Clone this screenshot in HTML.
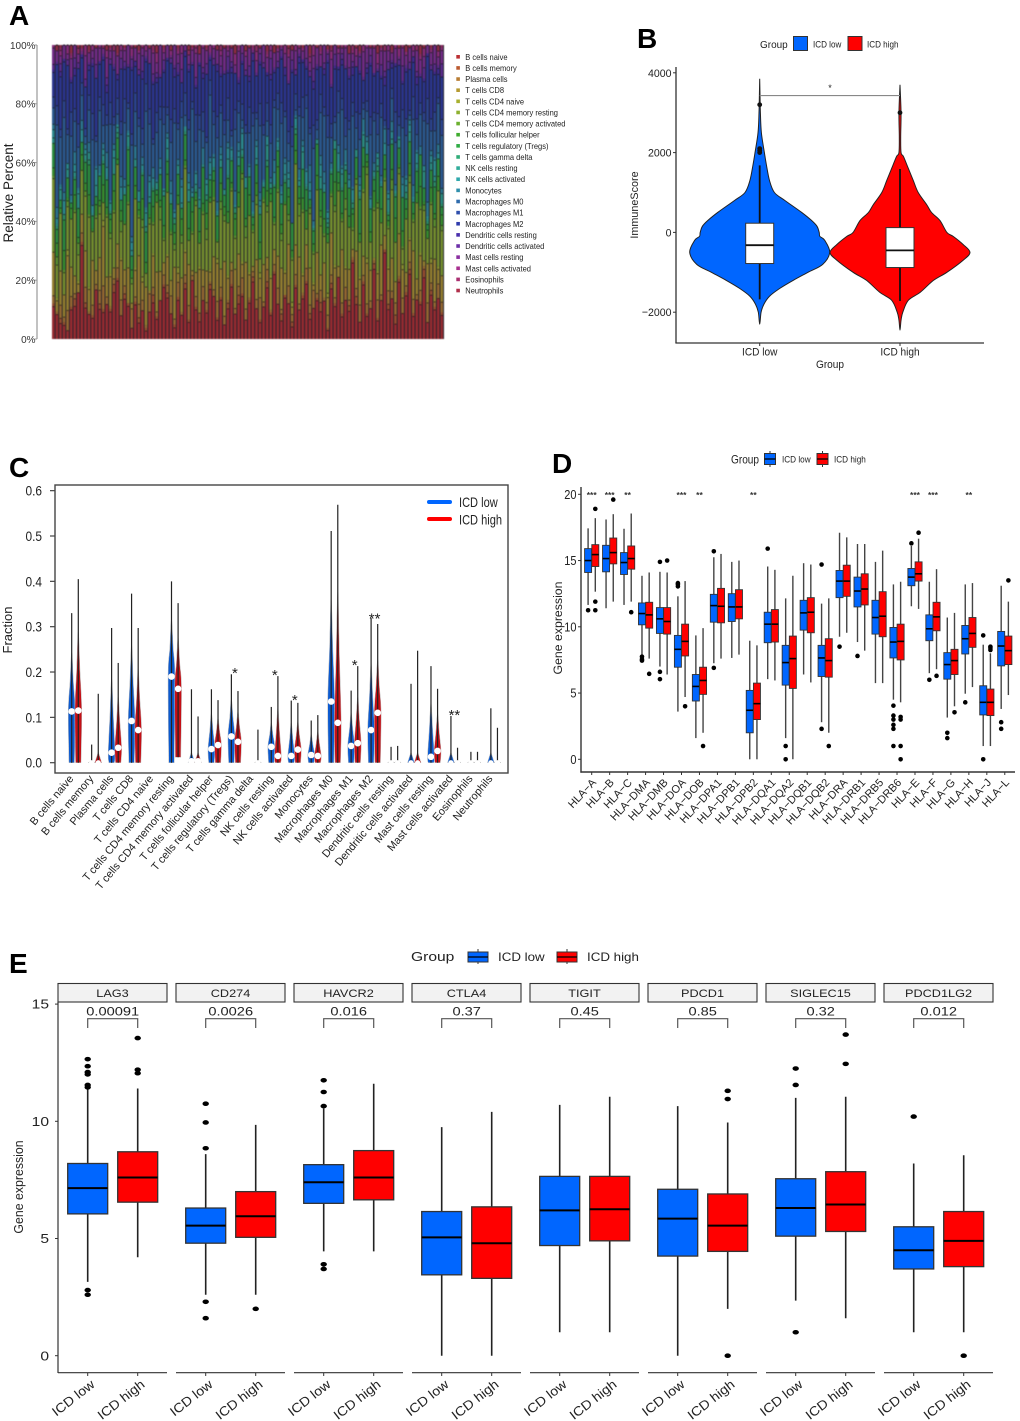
<!DOCTYPE html>
<html lang="en">
<head>
<meta charset="utf-8">
<title>Immune landscape panels A–E</title>
<style>
html,body{margin:0;padding:0;background:#fff;}
svg{display:block;font-family:"Liberation Sans",sans-serif;}
</style>
</head>
<body>
<svg id="fig" xmlns="http://www.w3.org/2000/svg" width="1020" height="1421" viewBox="0 0 1020 1421">
<rect width="1020" height="1421" fill="#fff"/>
<g id="pa"></g>
<g id="pb"></g>
<g id="pc"></g>
<g id="pd"></g>
<g id="pe"></g>
</svg>
<script>
/* ---------- Panel A data (relative cell fractions per sample) ---------- */
const aCellTypes = ["B cells naive","B cells memory","Plasma cells","T cells CD8","T cells CD4 naive","T cells CD4 memory resting","T cells CD4 memory activated","T cells follicular helper","T cells regulatory (Tregs)","T cells gamma delta","NK cells resting","NK cells activated","Monocytes","Macrophages M0","Macrophages M1","Macrophages M2","Dendritic cells resting","Dendritic cells activated","Mast cells resting","Mast cells activated","Eosinophils","Neutrophils"];
const aColors = ["#bb2f33","#bb5a30","#b87d33","#b59a30","#a8b02f","#8eb02f","#6cb02f","#3fac2f","#2fac45","#2fac78","#2fac9a","#2fa8ac","#2f8fac","#2f6bac","#2f4fac","#2f3cac","#4a2fac","#6c2fa8","#8a2fa0","#a82f8f","#aa2f70","#b02f4a"];
const aBNaive = [12,9,6,5,3,11,13,16,30,12,10,8,18,11,9,14,10,17,22,9,15,12,4,13,6,11,3,9,14,8,12,21,16,10,4,13,9,18,7,24,11,6,14,10,20,13,8,15,5,11,19,9,12,16,7,14,22,10,6,13,17,9,26,11,8,15,12,5,19,10,14,21,7,12,16,9,13,4,18,11,23,8,15,10,28,13,6,17,9,12,25,7,14,30,11,16,5,20,10,13,27,8,15,12,22,6,18,11,14,9];
const aBMemory = [1,0,2,1,0,1,3,0,1,2,0,1,0,2,1,0,1,3,1,0,2,1,0,1,2,0,1,0,3,1,0,1,2,0,1,1,0,2,1,0,1,3,0,1,2,0,1,1,0,2,1,0,3,1,0,1,2,0,1,0,2,1,1,0,3,1,0,2,1,0,1,1,2,0,1,3,0,1,2,1,0,1,0,2,1,3,0,1,1,0,2,1,0,1,2,0,3,1,0,1,2,1,0,1,3,0,2,1,0,1];
const aPlasma = [3,1,5,2,7,4,2,0,3,6,1,4,2,5,8,3,1,2,4,6,3,0,7,2,5,4,1,6,3,2,0,4,3,7,2,5,1,3,6,2,4,0,5,3,1,2,7,4,3,1,5,2,3,6,4,1,2,3,8,2,4,1,3,5,2,0,6,3,4,2,1,5,3,7,2,4,1,6,3,2,0,4,5,2,1,3,6,2,4,3,1,7,2,0,5,3,4,1,6,2,3,5,2,4,1,7,3,2,5,4];
const aCD8 = [16,4,13,8,19,11,7,3,6,14,9,17,5,12,20,8,11,4,9,15,6,13,2,10,18,7,14,1,12,16,9,5,11,6,18,3,13,8,17,2,9,15,6,12,4,10,16,7,19,8,3,14,11,5,17,9,2,13,7,15,4,12,6,10,18,8,14,3,11,16,6,9,13,2,17,5,12,8,15,10,4,19,7,11,3,14,9,6,16,12,1,10,18,5,8,13,7,15,11,4,9,17,6,12,2,14,8,16,5,10];
const aCD4Naive = [0,1,0,0,2,0,0,1,0,0,1,0,0,0,2,0,1,0,0,1,0,0,0,1,0,2,0,0,1,0,0,0,1,0,0,2,0,1,0,0,0,1,0,0,1,0,2,0,0,1,0,0,0,1,0,1,0,0,2,0,0,1,0,0,0,1,0,2,0,0,1,0,0,1,0,0,0,2,0,1,0,0,1,0,0,0,1,0,2,0,0,1,0,0,1,0,0,0,2,0,1,0,0,1,0,0,2,0,1,0];
const aCD4Rest = [27,12,22,8,15,18,25,9,14,21,28,11,19,16,6,24,13,20,30,10,17,23,7,26,14,19,5,22,11,28,16,9,24,18,6,21,13,29,10,15,25,8,20,12,27,17,7,23,14,19,26,11,16,31,9,22,13,18,5,25,15,28,10,20,12,24,8,17,30,14,21,6,19,11,26,16,9,23,13,18,28,10,22,15,7,25,12,20,33,11,17,24,8,19,14,27,13,21,6,16,23,10,29,15,18,9,22,12,26,17];
const aCD4Act = [1,3,0,1,2,0,1,4,0,2,1,0,1,3,0,1,2,1,0,4,0,1,2,0,1,3,0,2,1,0,4,1,0,1,2,0,3,1,0,1,2,0,1,4,0,1,0,3,2,0,1,1,0,2,4,0,1,3,0,1,2,0,1,1,3,0,2,1,0,4,1,0,2,1,0,3,1,0,1,2,0,1,4,0,1,2,0,1,3,0,1,2,0,1,1,4,0,2,1,0,3,1,0,1,2,0,1,3,0,2];
const aTfh = [3,5,2,7,1,4,6,2,5,3,8,1,4,2,6,3,5,7,2,4,1,6,3,5,2,8,4,1,6,3,2,5,7,1,4,3,6,2,5,8,1,4,3,6,2,5,1,7,3,4,2,6,5,1,3,8,2,4,6,1,5,3,2,7,4,1,6,3,5,2,4,7,1,3,6,2,5,4,1,8,3,2,6,4,5,1,3,7,2,4,6,1,5,3,2,4,8,1,6,3,5,2,4,7,1,3,6,2,5,4];
const aTreg = [9,5,3,11,7,2,6,10,4,8,12,5,3,9,7,11,2,6,8,4,10,13,5,7,3,9,11,4,6,2,8,12,5,10,3,7,4,9,11,6,2,8,13,5,7,3,10,6,4,12,8,2,9,5,11,7,3,6,10,4,8,2,12,5,9,7,3,11,6,4,10,8,2,5,13,7,9,3,6,11,4,8,5,10,2,7,12,6,3,9,4,11,8,5,2,10,7,6,13,3,9,4,8,11,5,2,7,10,6,3];
const aGamma = [0,1,0,2,0,0,1,0,0,1,2,0,0,0,1,0,1,0,2,0,0,1,0,0,0,1,2,0,1,0,0,0,1,0,2,0,0,1,0,0,1,0,0,2,0,1,0,0,0,1,0,2,0,1,0,0,1,0,0,0,2,0,1,0,0,1,0,0,2,0,0,1,0,1,0,0,0,2,1,0,0,1,0,0,2,0,1,0,0,0,1,2,0,0,1,0,1,0,0,2,0,0,1,0,0,1,0,2,0,1];
const aNKRest = [2,1,4,0,3,1,2,5,0,2,3,1,4,0,2,1,3,6,2,0,1,4,2,3,0,1,5,2,1,3,0,2,4,1,0,3,2,1,5,0,2,3,1,4,2,0,1,3,2,6,1,0,3,2,4,1,0,2,3,1,5,2,0,1,4,2,3,0,1,2,6,1,3,0,2,4,1,2,0,3,1,5,2,0,1,3,2,4,0,1,2,3,1,0,5,2,1,3,0,2,4,1,2,0,6,1,3,2,0,4];
const aNKAct = [3,2,1,5,2,0,3,1,4,2,0,3,6,1,2,4,0,3,1,5,2,1,3,0,4,2,1,5,3,0,2,1,4,3,2,0,6,1,3,2,4,1,0,2,5,3,1,2,0,4,3,1,2,6,0,3,1,4,2,1,3,0,5,2,1,4,2,0,3,1,2,5,3,1,0,4,2,3,1,0,6,2,1,3,4,0,2,1,5,3,0,2,1,4,2,3,0,1,5,2,3,1,4,0,2,1,3,6,2,0];
const aMono = [2,4,1,3,0,2,5,1,3,2,4,0,1,3,2,6,1,2,0,4,3,1,2,5,0,3,1,2,4,1,3,0,2,5,1,2,3,0,4,2,1,3,6,0,2,1,4,3,0,2,1,5,3,2,0,1,4,2,3,1,0,2,5,1,3,2,4,0,1,3,2,1,6,2,0,3,4,1,2,0,3,1,5,2,1,0,3,4,2,1,3,0,2,5,1,4,2,0,3,1,2,4,1,3,0,5,2,1,3,2];
const aM0 = [6,30,18,27,10,22,12,14,8,3,13,25,9,20,6,11,28,7,4,16,21,8,33,13,24,5,35,17,9,19,12,26,7,15,30,10,23,4,18,32,11,20,6,14,25,9,27,13,19,8,4,22,10,3,16,12,29,7,24,18,5,13,21,9,27,15,6,31,2,18,8,23,11,28,4,14,19,33,9,6,12,20,5,16,26,8,13,3,10,24,15,7,21,1,17,9,14,4,19,12,2,23,6,11,16,28,8,10,14,20];
const aM1 = [4,7,3,6,2,9,5,8,4,3,6,10,2,5,7,4,8,3,6,5,9,2,4,7,3,6,10,5,2,8,4,7,3,9,5,2,6,8,4,3,10,5,7,2,6,4,9,3,5,8,2,7,4,6,3,10,5,2,8,4,6,7,3,5,9,2,4,8,6,3,7,5,2,9,4,6,3,10,5,2,8,4,7,3,5,6,9,2,4,7,3,8,5,2,6,4,10,3,7,5,2,8,6,4,3,9,5,7,2,6];
const aM2 = [9,15,20,14,22,11,13,19,8,16,10,18,21,12,15,9,14,17,7,20,11,13,23,10,16,19,8,15,21,12,9,14,18,22,11,16,7,13,20,15,10,17,12,24,8,14,19,11,16,9,21,13,6,15,18,10,20,12,14,23,9,17,11,8,19,13,16,22,7,15,12,10,18,14,21,9,11,24,13,16,8,12,19,15,10,17,14,7,11,20,13,16,9,12,22,8,15,18,10,14,17,12,13,9,11,15,20,14,8,16];
const aDCRest = [1,0,2,1,0,1,3,0,1,0,2,1,0,1,1,3,0,1,2,0,1,0,1,2,0,3,1,0,1,2,0,1,1,0,3,1,0,2,1,0,1,1,2,0,1,0,3,1,0,1,2,0,1,1,0,2,3,0,1,0,1,2,1,0,1,3,0,1,0,2,1,1,0,3,1,0,2,1,0,1,1,2,0,1,3,0,1,0,2,1,1,0,1,3,0,2,1,0,1,1,0,2,3,0,1,1,0,1,2,0];
const aDCAct = [2,1,3,0,2,1,4,2,0,3,1,2,5,0,1,3,2,1,0,4,2,1,3,0,2,6,1,0,3,2,1,4,0,2,1,3,5,0,2,1,3,0,2,4,1,2,0,3,1,5,2,0,1,3,2,4,0,1,3,2,0,6,1,2,3,0,1,4,2,1,0,3,2,5,1,0,2,3,1,4,0,2,1,3,2,0,5,1,2,3,0,1,4,2,3,1,0,2,6,1,3,0,2,1,4,0,2,3,1,5];
const aMastRest = [6,4,3,5,2,7,5,3,1,9,4,3,6,5,2,8,3,5,7,3,4,7,1,5,6,3,2,5,8,4,9,3,5,1,7,3,6,2,4,5,9,3,7,5,1,3,6,4,8,2,5,3,9,3,5,7,1,4,2,7,5,3,6,3,1,5,8,4,7,2,3,5,3,5,7,4,6,1,9,3,5,2,7,5,3,4,1,8,6,3,9,2,5,7,4,3,5,1,7,3,6,2,8,5,4,3,5,7,3,5];
const aMastAct = [1,0,2,0,3,1,0,0,1,4,0,2,0,1,0,3,1,0,0,2,1,0,3,0,1,0,2,0,1,4,0,1,0,2,0,1,3,0,0,1,2,0,1,0,3,1,0,2,0,1,0,4,1,0,2,0,1,3,0,0,1,2,0,1,0,3,1,0,2,0,1,0,2,4,0,1,0,1,3,0,2,0,1,0,1,3,0,2,1,0,0,4,1,0,2,0,1,3,0,1,0,2,0,1,3,0,1,0,2,1];
const aEos = [0,0,1,0,0,1,0,2,0,0,1,0,0,0,1,0,0,2,1,0,0,0,1,0,0,1,0,0,2,0,0,1,0,0,0,1,0,0,2,0,1,0,0,1,0,0,0,2,0,1,0,0,1,0,0,0,1,2,0,0,1,0,0,0,1,0,2,0,0,1,0,0,1,0,0,2,0,0,1,0,0,1,0,0,2,0,1,0,0,0,1,0,0,2,0,1,0,0,1,0,0,0,2,1,0,0,1,0,0,1];
const aNeut = [0,2,1,0,0,3,0,1,1,0,2,0,1,0,0,2,1,0,3,0,1,0,0,1,2,0,0,1,0,3,0,1,0,2,0,1,0,0,2,1,0,3,0,1,0,0,2,0,1,0,1,3,0,0,2,1,0,0,1,0,2,0,3,1,0,0,1,2,0,0,1,0,3,0,1,0,0,2,1,0,1,0,0,3,0,1,2,0,0,1,0,3,1,0,0,2,0,1,0,2,1,0,0,3,1,0,1,0,2,0];
const aTicks = [0,20,40,60,80,100];

/* ---------- Panel B data ---------- */
const bLowLevels = [3850,3400,3000,2500,2000,1700,1300,1000,800,500,300,150,0,-100,-200,-500,-800,-1000,-1200,-1400,-1600,-1800,-2000,-2300];
const bLowDensity = [0,0.5,1,2.4,6.7,9.5,14,21,36,60,74,82,85,86,93,100,90,69,48,29,14,6,2,0];
const bHighLevels = [3700,3000,2400,2000,1900,1600,1300,1000,700,500,300,0,-100,-300,-500,-700,-1000,-1200,-1500,-1700,-2000,-2200,-2450];
const bHighDensity = [0,1.5,1,1.5,5,12,19,26,38,45,57,67,76,90,100,90,67,48,29,12,4,1.5,0];
const bLowBox = [-1680,-780,-320,230,1680];
const bHighBox = [-1720,-880,-450,120,1590];
const bLowOutliers = [3200,2100,2050,2000];
const bHighOutliers = [3000];
const bTicks = [-2000,0,2000,4000];

/* ---------- Panel C data ---------- */
const cCats = aCellTypes;
const cLowMedian = [.113,0,.022,.092,0,.19,.003,.03,.058,0,.035,.015,.017,.135,.037,.072,0,0,.013,0,0,0];
const cLowMax = [.33,.04,.297,.373,0,.40,.162,.162,.195,0,.123,.137,.093,.511,.159,.319,.035,.174,.213,.103,.024,.12];
const cHighMedian = [.115,0,.033,.072,0,.163,.003,.039,.046,0,.015,.029,.015,.088,.043,.11,0,0,.026,0,0,0];
const cHighMax = [.405,.152,.22,.297,0,.352,.102,.138,.158,.073,.191,.132,.105,.569,.213,.306,.037,.247,.163,.033,.024,.077];
const cHighMin = [0,0,0,0,0,.012,0,0,0,0,0,0,0,0,0,0,0,0,0,0,0,0];
const cStars = ["","","","","","","","","*","","*","*","","","*","**","","","","**","",""];
const cStarValue = [0,0,0,0,0,0,0,0,.205,0,.2,.145,0,0,.222,.325,0,0,0,.112,0,0];
const cTicks = [0,.1,.2,.3,.4,.5,.6];

/* ---------- Panel D data: [lower whisker, q1, median, q3, upper whisker] ---------- */
const dGenes = ["HLA−A","HLA−B","HLA−C","HLA−DMA","HLA−DMB","HLA−DOA","HLA−DOB","HLA−DPA1","HLA−DPB1","HLA−DPB2","HLA−DQA1","HLA−DQA2","HLA−DQB1","HLA−DQB2","HLA−DRA","HLA−DRB1","HLA−DRB5","HLA−DRB6","HLA−E","HLA−F","HLA−G","HLA−H","HLA−J","HLA−L"];
const dLowBox = [[11.65,14.1,15,15.9,17.43],[11.4,14.15,15.15,16.15,18.1],[11.65,13.95,14.85,15.6,17.4],[7.9,10.15,11,11.8,13.85],[7,9.5,10.6,11.45,14.15],[3.6,6.95,8.3,9.35,12.3],[1.6,4.4,5.5,6.4,9.35],[7.25,10.35,11.6,12.45,15.25],[7.65,10.4,11.5,12.5,14.9],[0,2,3.7,5.2,8.95],[6.05,8.8,10.2,11.1,14.55],[1.6,5.6,7.3,8.6,12.15],[6.4,9.75,11.05,12,14.8],[2.8,6.25,7.65,8.6,11.75],[9.25,12.2,13.45,14.25,17.1],[8.85,11.5,12.7,13.75,16.25],[5.75,9.45,10.7,12,14.9],[4.5,7.65,8.85,9.95,13.2],[11.55,13.1,13.75,14.4,16.1],[6.5,8.95,9.85,10.9,13.4],[3.15,6.05,7.15,8.05,10.7],[4.95,7.95,9.1,10.1,13.2],[1,3.35,4.3,5.55,8.65],[3.8,7.05,8.55,9.65,13.1]];
const dHighBox = [[12.65,14.55,15.45,16.2,18.2],[11.9,14.75,15.6,16.7,18.5],[11.9,14.35,15.15,16.1,18.55],[7.6,9.9,10.9,11.85,14.1],[6.4,9.45,10.4,11.45,14.1],[4.7,7.8,8.9,10.2,13.45],[2,4.9,5.95,6.95,9.9],[7.6,10.3,11.55,12.9,15.5],[7.9,10.6,11.5,12.8,15],[0,3,4.2,5.75,8.6],[5.95,8.85,10.2,11.3,14.3],[0,5.35,7.6,9.3,13.85],[5.8,9.55,11.1,12.2,14.7],[2,6.2,7.45,9.1,12.15],[9.55,12.3,13.45,14.65,16.75],[8.2,11.65,12.85,14,16.25],[5.75,9.25,10.8,12.65,15.75],[4.3,7.5,8.9,10.2,13.4],[11.35,13.45,14,14.9,16.65],[6.8,9.7,10.75,11.85,14.35],[4,6.4,7.45,8.3,11.05],[5.45,8.45,9.5,10.7,13.3],[1,3.3,4.3,5.3,8],[4.85,7.15,8.2,9.3,11.9]];
const dLowOutliers = [[11.25],[],[],[7.75,7.55,7.45],[14.9,6.6,6.05],[13.3,13.2,13.05],[],[15.7,6.9],[],[],[15.9],[1,0],[],[14.7,2.3],[8.5],[7.8],[],[4.05,3.3,3,2.6,2.3,1],[16.3],[6],[2,1.6],[4.3],[9.35,0],[2.8,2.3]];
const dHighOutliers = [[18.9,11.9,11.25],[19.6],[11.1],[6.45],[15],[4],[1],[],[],[],[],[],[],[1],[],[],[],[3.2,3,1,0],[17.1],[6.3],[3.55],[],[8.5,8.4,8.25],[13.5]];
const dStars = ["***","***","**","","","***","**","","","**","","","","","","","","","***","***","","**","",""];
const dTicks = [0,5,10,15,20];

/* ---------- Panel E data ---------- */
const eGenes = ["LAG3","CD274","HAVCR2","CTLA4","TIGIT","PDCD1","SIGLEC15","PDCD1LG2"];
const ePValues = ["0.00091","0.0026","0.016","0.37","0.45","0.85","0.32","0.012"];
const eLowBox = [[3.15,6.05,7.15,8.2,11.4],[2.6,4.8,5.55,6.3,8.6],[4.45,6.5,7.4,8.15,10.55],[0,3.45,5.05,6.15,9.75],[1,4.7,6.2,7.65,10.7],[0,4.25,5.85,7.1,10.65],[2.35,5.1,6.3,7.55,11],[1,3.7,4.5,5.5,8.2]];
const eHighBox = [[4.2,6.55,7.6,8.7,11.4],[2.6,5.05,5.95,7,9.85],[4.45,6.65,7.6,8.75,11.6],[0,3.3,4.8,6.35,10.4],[1,4.9,6.25,7.65,11.05],[2,4.45,5.55,6.9,9.95],[1.6,5.3,6.45,7.85,11.05],[1,3.8,4.9,6.15,8.55]];
const eLowOutliers = [[12.65,12.35,12.1,12,11.55,11.45,2.8,2.6],[10.75,9.95,8.85,2.3,1.6],[11.75,11.25,10.65,3.9,3.7],[],[],[],[12.25,11.55,1],[10.2]];
const eHighOutliers = [[13.55,12.2,12.05],[2],[],[],[],[11.3,10.95,0],[13.7,12.45],[0]];
const eTicks = [0,5,10,15];

/* ---------- helpers ---------- */
const NS = "http://www.w3.org/2000/svg";
function mk(parent, type, attrs, name) {
  const el = document.createElementNS(NS, type);
  for (const k in attrs) el.setAttribute(k, attrs[k]);
  
  
  parent.appendChild(el);
  return el;
}
function txt(parent, x, y, s, o, name) {
  o = o || {};
  const t = `translate(${x},${y}) rotate(${o.rot || 0}) scale(${o.sx || 1},1)`;
  const el = mk(parent, 'text', {
    transform: t,
    'font-size': o.size || 11,
    'text-anchor': o.anchor || 'start',
    fill: o.fill || '#222',
    'font-weight': o.weight || 'normal'
  }, name);
  el.textContent = s;
  return el;
}
function line(parent, x1, y1, x2, y2, stroke, w, name) {
  return mk(parent, 'line', {x1, y1, x2, y2, stroke, 'stroke-width': w}, name);
}
function slug(s) { return String(s).toLowerCase().replace(/[^a-z0-9]+/g, '-').replace(/^-|-$/g, ''); }
function smooth(pts) {
  let d = `M${pts[0][0]},${pts[0][1]}`;
  for (let i = 0; i < pts.length - 1; i++) {
    const p0 = pts[Math.max(i - 1, 0)], p1 = pts[i], p2 = pts[i + 1], p3 = pts[Math.min(i + 2, pts.length - 1)];
    const c1x = p1[0] + (p2[0] - p0[0]) / 6, c1y = p1[1] + (p2[1] - p0[1]) / 6;
    const c2x = p2[0] - (p3[0] - p1[0]) / 6, c2y = p2[1] - (p3[1] - p1[1]) / 6;
    d += `C${c1x.toFixed(2)},${c1y.toFixed(2)} ${c2x.toFixed(2)},${c2y.toFixed(2)} ${p2[0].toFixed(2)},${p2[1].toFixed(2)}`;
  }
  return d;
}
function panelLetter(parent, x, y, s) { txt(parent, x, y, s, {size: 28, weight: 'bold', fill: '#000'}, 'panel-label-' + s.toLowerCase()); }

/* ---------- Panel A ---------- */
(function () {
  const g = document.getElementById('pa');
  panelLetter(g, 9, 25, 'A');
  const series = [aBNaive,aBMemory,aPlasma,aCD8,aCD4Naive,aCD4Rest,aCD4Act,aTfh,aTreg,aGamma,aNKRest,aNKAct,aMono,aM0,aM1,aM2,aDCRest,aDCAct,aMastRest,aMastAct,aEos,aNeut];
  const X0 = 52, X1 = 444, Y0 = 339, Y1 = 45;
  const yPct = v => Y0 - v / 100 * (Y0 - Y1);
  const bars = mk(g, 'g', {style: 'filter:blur(0.55px)'}, 'stacked-bars');
  mk(bars, 'rect', {x: X0, y: Y1, width: X1 - X0, height: Y0 - Y1, fill: '#20202a'}, 'stack-plot-background');
  const n = aBNaive.length, step = (X1 - X0) / n;
  for (let i = 0; i < n; i++) {
    let total = 0, cum = 0;
    series.forEach(s => total += s[i] || 0);
    series.forEach((s, k) => {
      const v = s[i] || 0;
      if (!v) return;
      const top = yPct((cum + v) / total * 100), bot = yPct(cum / total * 100);
      const r = mk(bars, 'rect', {x: (X0 + i * step).toFixed(2), y: top.toFixed(2), width: (step - 0.9).toFixed(2), height: (bot - top).toFixed(2), fill: aColors[k]}, 'stack-segment');
      r.setAttribute('fill-opacity', '0.76');
      if (v >= 2) mk(bars, 'rect', {x: (X0 + i * step + 0.6).toFixed(2), y: (top - 0.5).toFixed(2), width: 1.6, height: 1.2, fill: '#111'}, 'segment-edge');
      cum += v;
    });
  }
  line(g, 37, 45, 37, 339, '#999', 1.2, 'y-axis-line');
  aTicks.forEach(t => {
    const y = yPct(t);
    line(g, 35, y, 37, y, '#999', 1, 'y-tick');
    txt(g, 35.5, y + 3.8, t + '%', {size: 10.5, anchor: 'end', fill: '#333', sx: .95}, 'y-tick-label');
  });
  txt(g, 13, 193, 'Relative Percent', {size: 13.5, anchor: 'middle', rot: -90, fill: '#222'}, 'y-axis-title');
  aCellTypes.forEach((c, i) => {
    const y = 56.8 + i * 11.13;
    mk(g, 'rect', {x: 456.3, y: y - 1.8, width: 3.6, height: 3.6, fill: aColors[i]}, 'legend-swatch');
    txt(g, 465.3, y + 3, c, {size: 8.6, fill: '#222', sx: .875}, 'legend-entry-' + slug(c));
  });
})();

/* ---------- Panel B ---------- */
(function () {
  const g = document.getElementById('pb');
  panelLetter(g, 637, 48, 'B');
  const yv = v => 232.4 - v * 0.0399;
  const xLow = 759.7, xHigh = 900;
  function violin(cx, levels, dens, color, name) {
    const right = levels.map((l, i) => [cx + dens[i] * 0.7, yv(l)]);
    const left = levels.map((l, i) => [cx - dens[i] * 0.7, yv(l)]).reverse().slice(1);
    mk(g, 'path', {d: smooth(right.concat(left)) + 'Z', fill: color, stroke: '#222', 'stroke-width': 1}, name);
  }
  violin(xLow, bLowLevels, bLowDensity, '#0066ff', 'violin-icd-low');
  violin(xHigh, bHighLevels, bHighDensity, '#ff0000', 'violin-icd-high');
  function box(cx, b, outs, name) {
    line(g, cx, yv(b[0]), cx, yv(b[4]), '#111', 1.8, name + '-whisker');
    mk(g, 'rect', {x: cx - 14, y: yv(b[3]), width: 28, height: yv(b[1]) - yv(b[3]), fill: '#fff', stroke: '#333', 'stroke-width': 1}, name + '-box');
    line(g, cx - 14, yv(b[2]), cx + 14, yv(b[2]), '#111', 1.8, name + '-median');
    outs.forEach(o => mk(g, 'circle', {cx, cy: yv(o), r: 2.4, fill: '#111'}, name + '-outlier'));
  }
  box(xLow, bLowBox, bLowOutliers, 'box-icd-low');
  box(xHigh, bHighBox, bHighOutliers, 'box-icd-high');
  line(g, xLow, yv(3430), xHigh, yv(3430), '#888', 1.2, 'significance-bracket');
  txt(g, 830, 91, '*', {size: 9, anchor: 'middle', fill: '#222'}, 'significance-star');
  line(g, 676, 67, 676, 343, '#333', 1.3, 'y-axis-line');
  line(g, 675.4, 343, 984, 343, '#333', 1.3, 'x-axis-line');
  bTicks.forEach(t => {
    line(g, 673, yv(t), 676, yv(t), '#333', 1, 'y-tick');
    txt(g, 671.5, yv(t) + 4, String(t).replace('-', '−'), {size: 11.5, anchor: 'end', sx: .92}, 'y-tick-label');
  });
  [[xLow, 'ICD low'], [xHigh, 'ICD high']].forEach(c => {
    line(g, c[0], 343, c[0], 346, '#333', 1, 'x-tick');
    txt(g, c[0], 355.5, c[1], {size: 11, anchor: 'middle', sx: .92}, 'x-tick-label');
  });
  txt(g, 830, 368, 'Group', {size: 11, anchor: 'middle', sx: .92}, 'x-axis-title');
  txt(g, 638, 205, 'ImmuneScore', {size: 10.8, anchor: 'middle', rot: -90}, 'y-axis-title');
  txt(g, 760, 48, 'Group', {size: 10.5, sx: .95}, 'legend-title');
  mk(g, 'rect', {x: 793.5, y: 36.5, width: 14, height: 14, fill: '#0066ff', stroke: '#333', 'stroke-width': 1}, 'legend-key-icd-low');
  txt(g, 813, 47.5, 'ICD low', {size: 9, sx: .9}, 'legend-label-icd-low');
  mk(g, 'rect', {x: 848, y: 36.5, width: 14, height: 14, fill: '#ff0000', stroke: '#333', 'stroke-width': 1}, 'legend-key-icd-high');
  txt(g, 867, 47.5, 'ICD high', {size: 9, sx: .9}, 'legend-label-icd-high');
})();

/* ---------- Panel C ---------- */
(function () {
  const g = document.getElementById('pc');
  panelLetter(g, 9, 477, 'C');
  const yv = v => 762.7 - v * 453.4;
  mk(g, 'rect', {x: 55, y: 485, width: 453, height: 288, fill: '#fff', stroke: '#444', 'stroke-width': 1.4}, 'plot-frame');
  cTicks.forEach(t => {
    line(g, 50, yv(t), 55, yv(t), '#444', 1.2, 'y-tick');
    txt(g, 42, yv(t) + 5, t.toFixed(1), {size: 14, anchor: 'end', sx: .85}, 'y-tick-label');
  });
  txt(g, 12, 630, 'Fraction', {size: 13, anchor: 'middle', rot: -90}, 'y-axis-title');
  function vio(cx, med, max, min, color, name) {
    if (max > 0) {
      const hw = 3.4;
      if (med >= .01) {
        const top = med + (max - med) * 0.6;
        const right = [[cx + hw * .8, yv(min)], [cx + hw, yv(med)], [cx + hw * .5, yv((med + top) / 2)], [cx, yv(top)]];
        const left = [[cx - hw * .5, yv((med + top) / 2)], [cx - hw, yv(med)], [cx - hw * .8, yv(min)]];
        mk(g, 'path', {d: smooth(right.concat(left)) + 'Z', fill: color, stroke: '#bbb', 'stroke-width': .5}, name + '-violin');
      } else {
        const top = max > .09 ? .024 : .006;
        const pts = `${cx - hw},${yv(min)} ${cx},${yv(top)} ${cx + hw},${yv(min)}`;
        mk(g, 'polygon', {points: pts, fill: max > .09 ? color : '#fff', stroke: '#bbb', 'stroke-width': .5}, name + '-violin');
      }
      line(g, cx, yv(min), cx, yv(max), '#222', 1.2, name + '-range-line');
    }
    mk(g, 'circle', {cx, cy: yv(med), r: med > 0 ? 3.3 : 2.6, fill: '#fff'}, name + '-median-dot');
  }
  cCats.forEach((c, i) => {
    const cx = 75 + i * 19.96;
    const nm = slug(c);
    vio(cx - 3.3, cLowMedian[i], cLowMax[i], 0, '#0b5ad0', nm + '-low');
    vio(cx + 3.3, cHighMedian[i], cHighMax[i], cHighMin[i], '#c40f16', nm + '-high');
    if (cStars[i]) txt(g, cx + 0.2, yv(cStarValue[i]) + 8, cStars[i], {size: 15, anchor: 'middle', fill: '#222'}, 'significance-' + nm);
    txt(g, cx - 1, 779, c, {size: 10.9, anchor: 'end', rot: -50, fill: '#222'}, 'x-tick-label-' + nm);
  });
  mk(g, 'line', {x1: 429, y1: 502, x2: 450, y2: 502, stroke: '#0066ff', 'stroke-width': 4, 'stroke-linecap': 'round'}, 'legend-line-icd-low');
  mk(g, 'line', {x1: 429, y1: 519, x2: 450, y2: 519, stroke: '#ff0000', 'stroke-width': 4, 'stroke-linecap': 'round'}, 'legend-line-icd-high');
  txt(g, 459, 507, 'ICD low', {size: 13.5, sx: .82}, 'legend-label-icd-low');
  txt(g, 459, 524.5, 'ICD high', {size: 13.5, sx: .82}, 'legend-label-icd-high');
})();

/* ---------- Panel D ---------- */
(function () {
  const g = document.getElementById('pd');
  panelLetter(g, 552, 473, 'D');
  const yv = v => 759.3 - v * 13.25;
  function box(cx, b, outs, color, name) {
    line(g, cx, yv(b[0]), cx, yv(b[4]), '#444', 1.4, name + '-whisker');
    mk(g, 'rect', {x: cx - 3.5, y: yv(b[3]), width: 7, height: yv(b[1]) - yv(b[3]), fill: color, stroke: '#333', 'stroke-width': .9}, name + '-box');
    line(g, cx - 3.5, yv(b[2]), cx + 3.5, yv(b[2]), '#000', 1.6, name + '-median');
    outs.forEach(o => mk(g, 'circle', {cx, cy: yv(o), r: 2.3, fill: '#000'}, name + '-outlier'));
  }
  dGenes.forEach((gene, i) => {
    const cx = 591.7 + i * 17.96;
    const nm = slug(gene);
    box(cx - 3.6, dLowBox[i], dLowOutliers[i], '#0066ff', nm + '-low');
    box(cx + 3.6, dHighBox[i], dHighOutliers[i], '#ff0000', nm + '-high');
    line(g, cx, 772, cx, 775, '#333', 1, 'x-tick');
    txt(g, cx + 5, 783, gene, {size: 11, anchor: 'end', rot: -47, fill: '#222'}, 'x-tick-label-' + nm);
    if (dStars[i]) txt(g, cx, 498, dStars[i], {size: 8.5, anchor: 'middle', fill: '#333', weight: 'bold'}, 'significance-' + nm);
  });
  line(g, 581, 487, 581, 772.6, '#333', 1.4, 'y-axis-line');
  line(g, 580.4, 772, 1015, 772, '#333', 1.4, 'x-axis-line');
  dTicks.forEach(t => {
    line(g, 578, yv(t), 581, yv(t), '#333', 1, 'y-tick');
    txt(g, 576.5, yv(t) + 4.6, String(t), {size: 12.5, anchor: 'end', sx: .88}, 'y-tick-label');
  });
  txt(g, 562, 628, 'Gene expression', {size: 12.3, anchor: 'middle', rot: -90}, 'y-axis-title');
  txt(g, 731, 463.5, 'Group', {size: 12, sx: .84}, 'legend-title');
  function key(x, color, name) {
    line(g, x + 5.5, 451, x + 5.5, 467, '#333', 1, name + '-whisker');
    mk(g, 'rect', {x, y: 453.5, width: 11, height: 11, fill: color, stroke: '#333', 'stroke-width': 1}, name);
    line(g, x, 459, x + 11, 459, '#000', 1.3, name + '-median');
  }
  key(764.5, '#0066ff', 'legend-key-icd-low');
  txt(g, 782, 462.5, 'ICD low', {size: 9.3, sx: .88}, 'legend-label-icd-low');
  key(817, '#ff0000', 'legend-key-icd-high');
  txt(g, 834, 462.5, 'ICD high', {size: 9.3, sx: .88}, 'legend-label-icd-high');
})();

/* ---------- Panel E ---------- */
(function () {
  const g = document.getElementById('pe');
  panelLetter(g, 9, 973, 'E');
  const yv = v => 1355.7 - v * 23.44;
  function box(cx, b, outs, color, name) {
    line(g, cx, yv(b[0]), cx, yv(b[4]), '#222', 1.6, name + '-whisker');
    mk(g, 'rect', {x: cx - 20, y: yv(b[3]), width: 40, height: yv(b[1]) - yv(b[3]), fill: color, stroke: '#333', 'stroke-width': 1.3}, name + '-box');
    line(g, cx - 20, yv(b[2]), cx + 20, yv(b[2]), '#000', 2, name + '-median');
    outs.forEach(o => mk(g, 'ellipse', {cx, cy: yv(o), rx: 3.2, ry: 2.3, fill: '#000'}, name + '-outlier'));
  }
  eGenes.forEach((gene, i) => {
    const x0 = 58 + i * 118;
    const nm = slug(gene);
    mk(g, 'rect', {x: x0, y: 983.5, width: 109, height: 18.5, fill: '#f2f2f2', stroke: '#333', 'stroke-width': 1.1}, 'strip-' + nm);
    txt(g, x0 + 54.5, 996.8, gene, {size: 10.6, anchor: 'middle', sx: 1.2}, 'strip-label-' + nm);
    const cl = x0 + 29.7, ch = x0 + 79.7;
    mk(g, 'path', {d: `M${cl},1028V1018.7H${ch}V1028`, fill: 'none', stroke: '#555', 'stroke-width': 1.2}, 'bracket-' + nm);
    txt(g, x0 + 54.7, 1015.5, ePValues[i], {size: 12.2, anchor: 'middle', sx: 1.2}, 'p-value-' + nm);
    box(cl, eLowBox[i], eLowOutliers[i], '#0066ff', nm + '-low');
    box(ch, eHighBox[i], eHighOutliers[i], '#ff0000', nm + '-high');
    line(g, x0, 1372.7, x0 + 109, 1372.7, '#333', 1.2, 'x-axis-line-' + nm);
    [[cl, 'ICD low'], [ch, 'ICD high']].forEach(c => {
      line(g, c[0], 1372.7, c[0], 1376, '#333', 1, 'x-tick');
      txt(g, c[0] + 8, 1386, c[1], {size: 13, anchor: 'end', rot: -38, sx: 1.1}, 'x-tick-label');
    });
  });
  line(g, 58, 1002, 58, 1373, '#333', 1.2, 'y-axis-line');
  eTicks.forEach(t => {
    line(g, 55, yv(t), 58, yv(t), '#333', 1, 'y-tick');
    txt(g, 49, yv(t) + 4.6, String(t), {size: 12.5, anchor: 'end', sx: 1.25}, 'y-tick-label');
  });
  txt(g, 23, 1187, 'Gene expression', {size: 13, anchor: 'middle', rot: -90, sx: .95}, 'y-axis-title');
  txt(g, 411, 961, 'Group', {size: 12.5, sx: 1.25}, 'legend-title');
  function key(x, color, name) {
    line(g, x + 10, 949, x + 10, 964, '#333', 1, name + '-whisker');
    mk(g, 'rect', {x, y: 952, width: 20, height: 10, fill: color, stroke: '#333', 'stroke-width': 1}, name);
    line(g, x, 957, x + 20, 957, '#000', 1.2, name + '-median');
  }
  key(468, '#0066ff', 'legend-key-icd-low');
  txt(g, 498, 961, 'ICD low', {size: 11.6, sx: 1.15}, 'legend-label-icd-low');
  key(557, '#ff0000', 'legend-key-icd-high');
  txt(g, 587, 961, 'ICD high', {size: 11.6, sx: 1.15}, 'legend-label-icd-high');
})();
</script>
</body>
</html>
